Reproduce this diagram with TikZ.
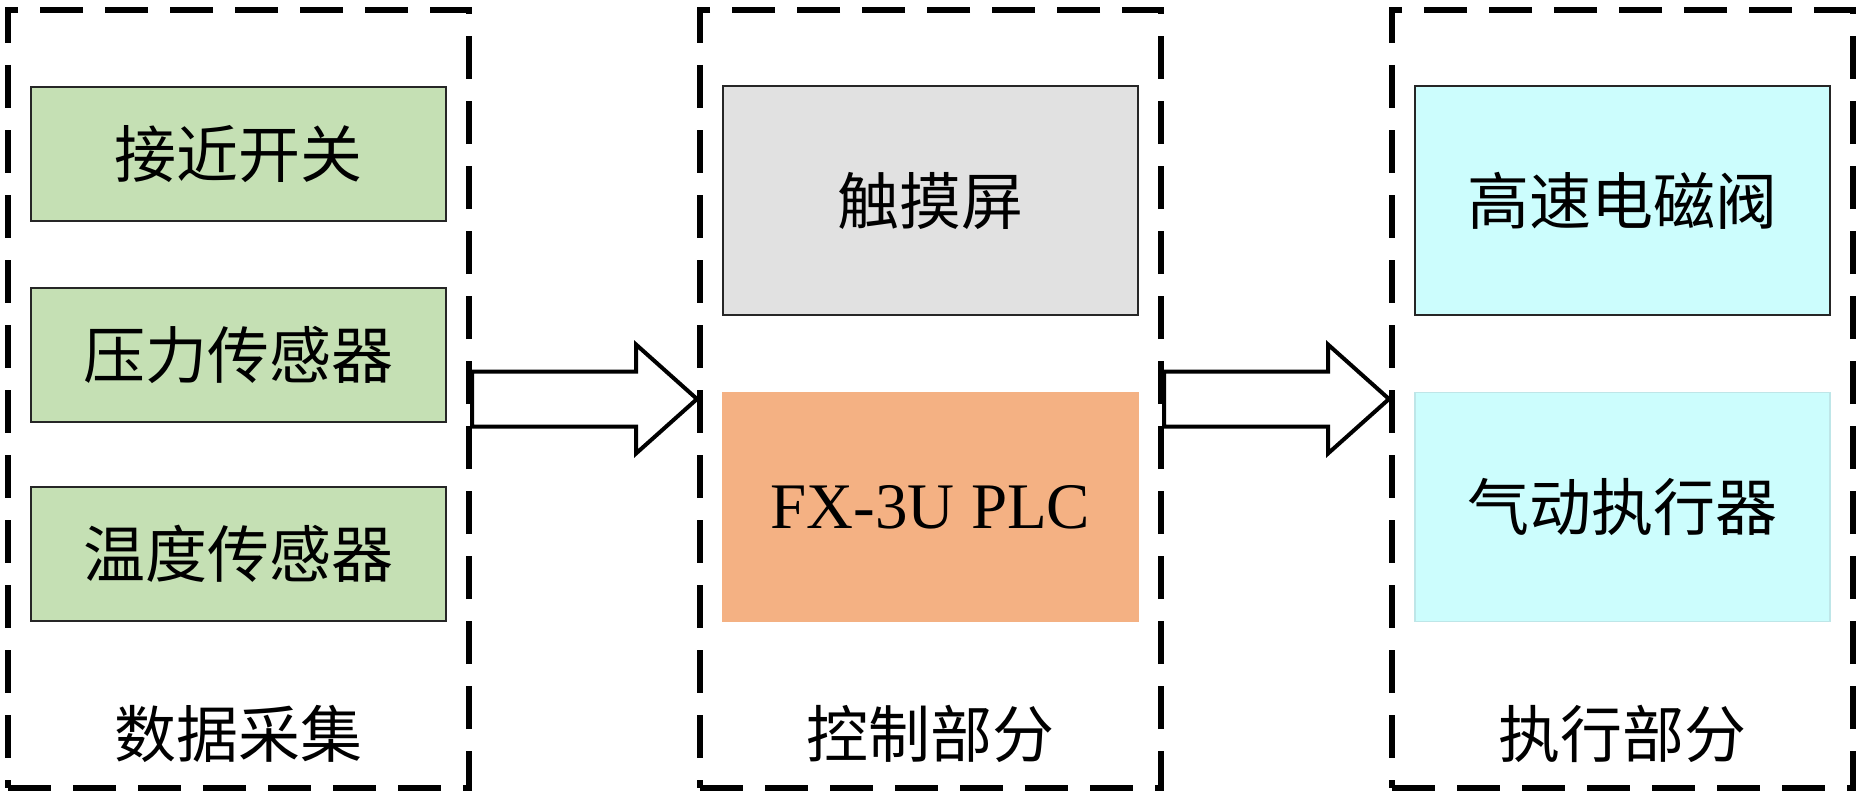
\documentclass[tikz,border=0pt]{standalone}
\usepackage{fontspec}
\setmainfont{Liberation Serif}
\newfontfamily\cjk{Noto Sans CJK SC}
\usetikzlibrary{calc}
\definecolor{cgreen}{RGB}{197,224,180}
\definecolor{cgray}{RGB}{225,225,225}
\definecolor{corange}{RGB}{244,177,131}
\definecolor{ccyan}{RGB}{204,253,253}
\definecolor{ccyanedge}{RGB}{190,230,232}
\tikzset{
  group/.style={draw=black, line width=6pt, dash pattern=on 43pt off 22pt,
    minimum width=461pt, minimum height=778pt, inner sep=0pt},
  unit/.style={draw=black!85, line width=1.5pt, minimum width=415pt, inner sep=0pt,
    font=\cjk\fontsize{62}{70}\selectfont},
  short/.style={unit, minimum height=134pt},
  tall/.style={unit, minimum height=229pt},
  grouplabel/.style={font=\cjk\fontsize{62}{70}\selectfont, inner sep=0pt},
  bigarrow/.style={draw=black, line width=4pt, fill=white, line join=miter},
}
\begin{document}
\begin{tikzpicture}[x=1pt,y=-1pt]
\useasboundingbox (0,0) rectangle (1861,800);
% group frames
\node[group] (L) at (238.5,399) {};
\node[group] (M) at (930.5,399) {};
\node[group] (R) at (1622.5,399) {};
% data acquisition
\node[short, fill=cgreen] (s1) at (238.5,154) {接近开关};
\node[short, fill=cgreen] (s2) at (238.5,355) {压力传感器};
\node[short, fill=cgreen] (s3) at (238.5,554) {温度传感器};
\node[grouplabel] (lL) at (238.5,734) {数据采集};
% control
\node[tall, fill=cgray] (hmi) at (930.5,200.5) {触摸屏};
\node[tall, fill=corange, draw=corange, font=\fontsize{65}{70}\selectfont] (plc) at (930.5,507) {FX-3U PLC};
\node[grouplabel] (lM) at (930.5,734) {控制部分};
% execution
\node[tall, fill=ccyan] (valve) at (1622.5,200.5) {高速电磁阀};
\node[tall, fill=ccyan, draw=ccyanedge] (act) at (1622.5,507) {气动执行器};
\node[grouplabel] (lR) at (1622.5,734) {执行部分};
% block arrows
\draw[bigarrow] ($(L.east)+(0,-27.5)$) -- ($(M.west)+(-61,-27.5)$) -- ($(M.west)+(-61,-54.5)$)
  -- (M.west) -- ($(M.west)+(-61,54.5)$) -- ($(M.west)+(-61,27.5)$) -- ($(L.east)+(0,27.5)$) -- cycle;
\draw[bigarrow] ($(M.east)+(0,-27.5)$) -- ($(R.west)+(-61,-27.5)$) -- ($(R.west)+(-61,-54.5)$)
  -- (R.west) -- ($(R.west)+(-61,54.5)$) -- ($(R.west)+(-61,27.5)$) -- ($(M.east)+(0,27.5)$) -- cycle;
\end{tikzpicture}
\end{document}
